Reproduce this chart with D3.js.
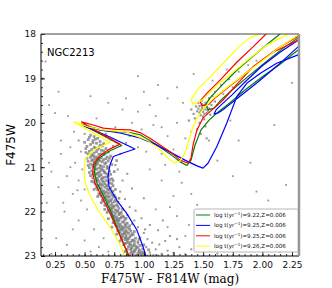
<!DOCTYPE html>
<html>
<head>
<meta charset="utf-8">
<script src="https://cdn.jsdelivr.net/npm/d3@7"></script>
<style>
  body { margin: 0; background: #fff; }
  svg { display: block; }
</style>
</head>
<body>
<svg id="chart" width="332" height="288"></svg>
<script>
// 星团名 / 坐标轴
const clusterName = "NGC2213";
const xTicks = [0.25, 0.50, 0.75, 1.00, 1.25, 1.50, 1.75, 2.00, 2.25];
const yTicks = [18, 19, 20, 21, 22, 23];

// 主序带上的星 (color, mag)
const msStars = [
  [0.55,20.28],[0.58,20.31],[0.61,20.35],[0.53,20.38],[0.57,20.40],[0.63,20.42],[0.50,20.44],[0.60,20.46],[0.66,20.47],[0.55,20.49],
  [0.52,20.53],[0.58,20.55],[0.62,20.56],[0.68,20.58],[0.56,20.60],[0.64,20.62],[0.54,20.64],[0.60,20.65],[0.70,20.66],[0.58,20.68],
  [0.53,20.70],[0.62,20.71],[0.66,20.72],[0.57,20.74],[0.72,20.75],[0.60,20.77],[0.55,20.78],[0.64,20.79],[0.68,20.81],[0.59,20.82],
  [0.62,20.84],[0.56,20.85],[0.70,20.86],[0.65,20.88],[0.58,20.89],[0.61,20.91],[0.67,20.92],[0.55,20.93],[0.73,20.94],[0.63,20.96],
  [0.59,20.97],[0.66,20.99],[0.57,21.00],[0.62,21.02],[0.69,21.03],[0.60,21.05],[0.65,21.06],[0.56,21.08],[0.71,21.09],[0.63,21.10],
  [0.58,21.12],[0.67,21.13],[0.61,21.15],[0.64,21.17],[0.59,21.18],[0.70,21.20],[0.62,21.21],[0.66,21.23],[0.57,21.24],[0.73,21.26],
  [0.64,21.27],[0.60,21.29],[0.68,21.30],[0.62,21.32],[0.66,21.34],[0.71,21.35],[0.63,21.37],[0.59,21.38],[0.69,21.40],[0.65,21.41],
  [0.62,21.43],[0.67,21.45],[0.72,21.46],[0.64,21.48],[0.69,21.49],[0.61,21.51],[0.66,21.53],[0.74,21.54],[0.68,21.56],[0.64,21.57],
  [0.70,21.59],[0.66,21.61],[0.73,21.62],[0.68,21.64],[0.64,21.65],[0.71,21.67],[0.76,21.68],[0.67,21.70],[0.73,21.72],[0.69,21.73],
  [0.71,21.75],[0.66,21.77],[0.75,21.78],[0.70,21.80],[0.73,21.81],[0.68,21.83],[0.77,21.85],[0.72,21.86],[0.75,21.88],[0.70,21.89],
  [0.74,21.91],[0.79,21.93],[0.72,21.94],[0.76,21.96],[0.70,21.97],[0.78,21.99],[0.74,22.01],[0.81,22.02],[0.76,22.04],[0.73,22.05],
  [0.79,22.07],[0.75,22.09],[0.82,22.10],[0.77,22.12],[0.74,22.13],[0.80,22.15],[0.76,22.17],[0.84,22.18],[0.79,22.20],[0.77,22.21],
  [0.82,22.23],[0.78,22.25],[0.86,22.26],[0.80,22.28],[0.76,22.29],[0.84,22.31],[0.81,22.33],[0.79,22.34],[0.87,22.36],[0.83,22.37],
  [0.80,22.39],[0.85,22.41],[0.82,22.42],[0.89,22.44],[0.84,22.45],[0.80,22.47],[0.87,22.49],[0.83,22.50],[0.91,22.52],[0.85,22.53],
  [0.82,22.55],[0.88,22.57],[0.85,22.58],[0.93,22.60],[0.87,22.61],[0.84,22.63],[0.90,22.65],[0.86,22.66],[0.95,22.68],[0.89,22.69],
  [0.85,22.71],[0.92,22.73],[0.88,22.74],[0.97,22.76],[0.91,22.77],[0.87,22.79],[0.94,22.81],[0.90,22.82],[0.99,22.84],[0.93,22.85],
  [0.89,22.87],[0.96,22.89],[0.92,22.90],[1.00,22.92],[0.95,22.93],[0.91,22.95],[0.98,22.97],[0.94,22.98],[0.88,22.99],
  [0.54,20.33],[0.59,20.37],[0.65,20.52],[0.51,20.58],[0.61,20.60],[0.67,20.69],[0.56,20.72],[0.69,20.77],[0.61,20.80],[0.53,20.87],
  [0.66,20.83],[0.60,20.94],[0.69,20.98],[0.54,21.01],[0.64,21.04],[0.67,21.11],[0.60,21.14],[0.72,21.16],[0.55,21.19],[0.65,21.25],
  [0.61,21.28],[0.70,21.33],[0.67,21.38],[0.61,21.41],[0.74,21.42],[0.63,21.47],[0.70,21.52],[0.67,21.58],[0.62,21.60],[0.75,21.63],
  [0.70,21.66],[0.66,21.69],[0.72,21.76],[0.78,21.79],[0.69,21.84],[0.74,21.87],[0.72,21.92],[0.77,21.98],[0.72,22.00],[0.80,22.05],
  [0.75,22.11],[0.81,22.13],[0.78,22.16],[0.75,22.22],[0.83,22.24],[0.79,22.30],[0.85,22.34],[0.81,22.40],[0.78,22.43],[0.86,22.46],
  [0.82,22.51],[0.89,22.54],[0.84,22.59],[0.81,22.62],[0.91,22.64],[0.87,22.70],[0.83,22.75],[0.93,22.78],[0.89,22.83],[0.96,22.86],
  [0.90,22.91],[0.97,22.94],[0.86,22.96],[0.93,23.00],
  [0.57,20.45],[0.63,20.50],[0.59,20.57],[0.66,20.63],[0.51,20.67],[0.64,20.70],[0.58,20.76],[0.71,20.80],[0.57,20.83],[0.63,20.86],
  [0.68,20.90],[0.57,20.95],[0.64,20.98],[0.70,21.01],[0.59,21.03],[0.66,21.08],[0.62,21.12],[0.69,21.15],[0.57,21.16],[0.63,21.19],
  [0.68,21.22],[0.60,21.25],[0.71,21.28],[0.65,21.31],[0.58,21.34],[0.73,21.37],[0.64,21.39],[0.69,21.43],[0.60,21.46],[0.71,21.50],
  [0.65,21.55],[0.72,21.57],[0.63,21.62],[0.74,21.66],[0.68,21.68],[0.65,21.74],[0.76,21.75],[0.70,21.78],[0.67,21.86],[0.78,21.88],
  [0.73,21.96],[0.69,22.02],[0.79,22.03],[0.73,22.08],[0.83,22.12],[0.78,22.19],[0.74,22.25],[0.85,22.28],[0.77,22.32],[0.82,22.36],
  [0.88,22.40],[0.79,22.44],[0.84,22.48],[0.90,22.50],[0.81,22.58],[0.86,22.62],[0.92,22.67],[0.84,22.72],[0.89,22.76],[0.95,22.80],
  [0.86,22.85],[0.92,22.88],[0.98,22.91],[0.89,22.94],[0.95,22.99],[0.84,22.90],[0.80,22.66],[0.77,22.51],[0.73,22.35],[0.70,22.16],
  [0.67,21.95],[0.64,21.80],[0.61,21.66],[0.58,21.50],[0.56,21.32],[0.54,21.12],[0.53,20.96],[0.52,20.80],[0.74,21.30],[0.76,21.50],
  [0.79,21.70],[0.82,21.95],[0.85,22.15],[0.88,22.32],[0.92,22.45],[0.96,22.62],[1.00,22.75],[1.04,22.86],[0.75,21.10],[0.77,20.85]
];

// 主序右侧 (双星 + 场星)
const redStars = [
  [0.80,21.55],[0.84,21.72],[0.88,21.90],[0.86,22.08],[0.92,22.20],[0.95,22.35],[0.90,22.28],[1.00,22.48],[0.97,22.58],[1.03,22.62],
  [1.07,22.70],[1.02,22.80],[1.10,22.85],[1.05,22.92],[1.15,22.95],[1.08,22.98],[1.20,22.88],[1.25,22.93],[1.13,22.74],[1.18,22.66],
  [0.98,22.15],[0.93,21.98],[1.05,22.30],[1.12,22.42],[0.82,21.30],[0.86,21.15],[0.78,21.05],[0.90,21.48],[1.00,21.70],[1.22,22.55],
  [1.30,22.80],[1.35,22.96],[1.28,22.62],[0.99,22.96],[1.03,22.99],[1.12,22.99],[0.95,22.72],[1.01,22.40],[1.16,22.20],[1.40,22.85],
  [0.76,20.95],[0.80,20.70],[0.74,20.52],[0.85,20.45],[0.72,20.38],[0.68,20.25],[0.62,20.20],[0.57,20.15],[0.50,20.25],[0.45,20.40]
];

// 左侧与上方的场星
const fieldStars = [
  [0.48,21.05],[0.45,21.30],[0.50,21.50],[0.42,20.90],[0.47,21.75],[0.52,21.95],[0.40,21.60],[0.35,21.20],[0.30,20.70],[0.38,20.55],
  [0.25,19.78],[0.20,19.60],[0.17,18.62],[0.15,19.00],[0.22,21.10],[0.28,21.45],[0.33,22.00],[0.26,22.60],[0.45,22.20],[0.58,22.40],
  [0.62,22.80],[0.36,19.85],[0.20,20.90],[0.30,20.40],[0.41,20.20],[0.18,21.80],[0.55,22.90],[0.44,21.52],[0.38,21.00],[0.47,20.65],
  [0.70,19.55],[0.82,19.70],[0.90,20.00],[1.10,19.85],[1.08,20.05],[0.98,20.15],[1.20,20.30],[1.25,20.60],[1.15,20.70],[0.95,20.55],
  [1.30,21.10],[1.15,21.30],[1.40,21.60],[1.05,21.05],[1.22,21.90],[1.45,22.10],[1.60,22.30],[1.75,21.20],[1.85,22.60],[2.00,22.05],
  [1.55,20.40],[1.62,20.85],[1.40,20.20],[1.33,19.55],[1.28,19.20],[1.42,18.90],[1.58,19.05],[1.70,18.80],[2.10,20.05],[1.95,21.55],
  [1.73,19.95],[1.80,20.40],[1.20,19.45],[1.00,19.30],[0.60,19.90],[0.76,20.10],
  [1.60,19.30],[1.65,19.15],[1.72,19.02],[1.80,18.85],[1.88,18.70],[1.95,18.60],[1.58,19.40],[1.67,19.35],[1.75,19.20],[1.62,19.60],
  [2.05,21.75],[2.15,22.90],[1.68,22.80],[1.50,22.60],
  [0.85,19.45],[0.95,19.75],[1.05,19.60],[1.15,20.10],[1.28,20.00],[1.35,20.35],[0.88,20.30],[1.02,20.65],[1.18,20.95],[1.32,21.35],
  [1.25,21.65],[1.45,21.85],[1.55,22.45],[1.38,22.30],[1.48,22.75],[1.62,22.95],[1.20,22.35],[1.28,22.10],[1.10,21.95],[1.35,22.55],
  [0.35,22.75],[0.22,22.95],[0.14,20.20],[0.28,19.30],[0.55,19.40],[0.95,18.95],[1.12,19.15],[2.25,19.10],[2.20,21.40],[1.90,20.90],
  [0.40,22.40],[0.32,21.80],[0.50,22.65],[0.60,23.00],[0.70,22.90],[0.66,22.60]
];

// 红团簇
const clumpStars = [
  [1.47,19.62],[1.49,19.66],[1.51,19.60],[1.52,19.70],[1.48,19.72],[1.50,19.75],[1.53,19.64],[1.46,19.68],[1.50,19.69],[1.49,19.58],
  [1.54,19.73],[1.47,19.77],[1.51,19.80],[1.45,19.74],[1.52,19.55],[1.48,19.83],[1.55,19.68],[1.44,19.63],[1.50,19.86],[1.53,19.78],
  [1.46,19.55],[1.42,19.80],[1.57,19.60],[1.49,19.50],[1.43,19.90],[1.51,19.92],[1.56,19.82],[1.40,19.70],[1.47,20.00],[1.52,20.08],
  [1.45,20.15],[1.55,19.45],[1.60,19.52],[1.38,19.95],[1.48,20.25],[1.53,20.35]
];

// 等龄线 (color, mag)
const iso922 = [
  [0.883,23.09],[0.782,22.41],[0.714,21.96],[0.664,21.67],[0.605,21.36],[0.583,21.13],[0.588,20.93],[0.630,20.78],[0.706,20.64],[0.813,20.51],
  [0.630,20.25],[0.475,20.03],[0.571,20.11],[0.655,20.17],[0.773,20.20],[0.883,20.22],[0.967,20.27],[1.052,20.40],[1.136,20.55],[1.221,20.70],
  [1.305,20.88],[1.364,20.96],[1.398,20.84],[1.432,20.50],[1.482,20.16],[1.550,19.94],[1.617,19.78],[1.727,19.55],[1.853,19.26],[1.997,18.97],
  [2.149,18.68],[2.301,18.36],[2.419,18.18],
  [2.318,17.73],[2.191,17.91],[2.064,18.18],[1.921,18.50],[1.786,18.81],[1.659,19.15],[1.558,19.44],[1.524,19.58],[1.541,19.71],[1.592,19.67],
  [1.643,19.51],[1.744,19.26],[1.896,18.92],[2.047,18.59],[2.191,18.29],[2.301,18.09],[2.419,17.91]
];
const iso925b = [
  [1.027,23.09],[0.993,22.79],[0.940,22.41],[0.855,22.04],[0.771,21.74],[0.706,21.44],[0.697,21.21],[0.714,20.95],[0.742,20.76],[0.824,20.68],
  [0.925,20.59],[0.714,20.32],[0.495,20.07],[0.630,20.16],[0.799,20.23],[0.967,20.34],[1.094,20.48],[1.221,20.66],[1.347,20.84],[1.448,20.97],
  [1.499,21.02],[1.541,20.91],[1.615,20.54],[1.699,20.01],[1.784,19.41],[1.868,19.11],[1.980,18.89],[2.121,18.66],[2.301,18.47],[2.444,18.32],
  [2.444,17.91],[2.301,18.14],[2.149,18.41],[1.997,18.72],[1.853,19.08],[1.744,19.37],[1.659,19.58],[1.609,19.71],[1.592,19.80],[1.626,19.78],
  [1.685,19.67],[1.811,19.40],[1.963,19.08],[2.132,18.70],[2.301,18.29],[2.444,18.05]
];
const iso925r = [
  [0.891,23.09],[0.776,22.41],[0.700,21.96],[0.644,21.66],[0.588,21.36],[0.568,21.14],[0.575,20.93],[0.621,20.76],[0.697,20.61],[0.799,20.48],
  [0.630,20.23],[0.475,19.98],[0.573,20.05],[0.658,20.12],[0.771,20.15],[0.883,20.16],[0.967,20.22],[1.052,20.35],[1.136,20.50],[1.221,20.65],
  [1.305,20.84],[1.375,20.91],[1.398,20.79],[1.415,20.50],[1.448,20.16],[1.499,19.89],[1.575,19.71],[1.668,19.49],[1.786,19.13],[1.921,18.74],
  [2.090,18.41],[2.301,18.14],[2.444,17.95],
  [2.233,17.80],[2.064,17.91],[2.031,18.00],[1.921,18.29],[1.786,18.63],[1.643,19.04],[1.533,19.33],[1.474,19.51],[1.491,19.62],[1.550,19.58],
  [1.600,19.44],[1.659,19.31],[1.811,18.99],[1.963,18.65],[2.132,18.32],[2.301,18.05],[2.419,17.86]
];
const iso926 = [
  [0.849,23.09],[0.813,22.82],[0.729,22.41],[0.630,22.03],[0.546,21.65],[0.503,21.33],[0.495,21.11],[0.503,20.84],[0.546,20.68],[0.605,20.57],
  [0.664,20.50],[0.714,20.44],[0.562,20.21],[0.410,19.98],[0.529,20.09],[0.655,20.16],[0.858,20.21],[1.027,20.39],[1.136,20.61],[1.221,20.84],
  [1.263,20.91],[1.305,20.86],[1.347,20.68],[1.373,20.45],[1.406,20.16],[1.448,19.89],[1.507,19.67],[1.583,19.46],[1.710,19.19],[1.862,18.88],
  [2.005,18.59],[2.149,18.29],[2.284,18.05],[2.402,17.82],
  [2.233,17.73],[2.081,17.86],[1.980,18.00],[1.900,18.07],[1.800,18.29],[1.680,18.63],[1.558,18.97],[1.448,19.26],[1.398,19.49],[1.415,19.58],
  [1.491,19.49],[1.617,19.15],[1.752,18.86],[1.896,18.54],[2.039,18.25],[2.166,18.07],[2.318,17.86]
];

const isoColors = ["green", "blue", "red", "yellow"];
const isoLabels = ["9.22", "9.25", "9.25", "9.26"];
const isoZ = "0.006";

const svg = d3.select("#chart");
const margin = { left: 41, right: 33, top: 34, bottom: 32 };
const W = 332, H = 288;
const pw = W - margin.left - margin.right;
const ph = H - margin.top - margin.bottom;

const x = d3.scaleLinear().domain([0.132, 2.309]).range([margin.left, margin.left + pw]);
const y = d3.scaleLinear().domain([18, 23]).range([margin.top, margin.top + ph]);

svg.append("defs").append("clipPath").attr("id", "plotClip")
  .append("rect")
  .attr("x", margin.left).attr("y", margin.top)
  .attr("width", pw).attr("height", ph);

const plot = svg.append("g").attr("clip-path", "url(#plotClip)");

// 散点: 主序带画大一点, 其余小点
function drawStars(list, size) {
  plot.append("g").selectAll("rect")
    .data(list)
    .join("rect")
    .attr("x", d => x(d[0]) - size / 2)
    .attr("y", d => y(d[1]) - size / 2)
    .attr("width", size)
    .attr("height", size)
    .attr("fill", "#808080")
    .attr("opacity", 0.8);
}
drawStars(fieldStars, 1.8);
drawStars(redStars, 2.0);
drawStars(clumpStars, 2.2);
drawStars(msStars, 2.7);

// 等龄线
const line = d3.line().x(d => x(d[0])).y(d => y(d[1]));
[iso922, iso925b, iso925r, iso926].forEach((iso, i) => {
  plot.append("path")
    .attr("d", line(iso))
    .attr("fill", "none")
    .attr("stroke", isoColors[i])
    .attr("stroke-width", 1.2)
    .attr("stroke-linejoin", "round");
});

// 坐标轴 (刻度朝内)
const xAxis = d3.axisBottom(x).tickValues(xTicks).tickFormat(d3.format(".2f")).tickSizeInner(-4).tickSizeOuter(0).tickPadding(6);
const xMinor = d3.axisBottom(x).tickValues(d3.range(0.15, 2.31, 0.05)).tickFormat("").tickSizeInner(-2).tickSizeOuter(0);
const yAxis = d3.axisLeft(y).tickValues(yTicks).tickFormat(d3.format("d")).tickSizeInner(-4).tickSizeOuter(0).tickPadding(5);
const yMinor = d3.axisLeft(y).tickValues(d3.range(18, 23.01, 0.2)).tickFormat("").tickSizeInner(-2).tickSizeOuter(0);

function styleAxis(g) {
  g.select(".domain").remove();
  g.selectAll("line").attr("stroke", "#000").attr("stroke-width", 0.8);
  g.selectAll("text").attr("font-family", "DejaVu Sans").attr("font-size", 9).attr("fill", "#111");
}

svg.append("g").attr("transform", `translate(0,${margin.top + ph})`).call(xMinor).call(styleAxis);
svg.append("g").attr("transform", `translate(0,${margin.top + ph})`).call(xAxis).call(styleAxis);
svg.append("g").attr("transform", `translate(${margin.left},0)`).call(yMinor).call(styleAxis);
svg.append("g").attr("transform", `translate(${margin.left},0)`).call(yAxis).call(styleAxis);

// 边框
svg.append("line").attr("x1", margin.left).attr("x2", margin.left + pw).attr("y1", margin.top).attr("y2", margin.top)
  .attr("stroke", "#444").attr("stroke-width", 1);
svg.append("line").attr("x1", margin.left).attr("x2", margin.left).attr("y1", margin.top).attr("y2", margin.top + ph)
  .attr("stroke", "#000").attr("stroke-width", 1);
svg.append("line").attr("x1", margin.left).attr("x2", margin.left + pw).attr("y1", margin.top + ph).attr("y2", margin.top + ph)
  .attr("stroke", "#000").attr("stroke-width", 1);
svg.append("line").attr("x1", margin.left + pw).attr("x2", margin.left + pw).attr("y1", margin.top).attr("y2", margin.top + ph)
  .attr("stroke", "#999").attr("stroke-width", 2.5);

// 标题文字
svg.append("text")
  .attr("x", margin.left + 6).attr("y", 56)
  .attr("font-family", "DejaVu Sans").attr("font-size", 10)
  .text(clusterName);

svg.append("text")
  .attr("transform", `translate(15,${margin.top + ph / 2}) rotate(-90)`)
  .attr("text-anchor", "middle")
  .attr("font-family", "DejaVu Sans").attr("font-size", 12)
  .text("F475W");

svg.append("text")
  .attr("x", margin.left + pw / 2).attr("y", 283)
  .attr("text-anchor", "middle")
  .attr("font-family", "DejaVu Serif").attr("font-size", 12)
  .text("F475W - F814W (mag)");

// 图例
const lg = svg.append("g").attr("transform", "translate(194,209)");
lg.append("rect")
  .attr("width", 104).attr("height", 43)
  .attr("fill", "#fff").attr("stroke", "#888").attr("stroke-width", 0.6).attr("rx", 1.5);
isoColors.forEach((c, i) => {
  const ly = 6 + i * 10.4;
  lg.append("line").attr("x1", 2).attr("x2", 16).attr("y1", ly).attr("y2", ly)
    .attr("stroke", c).attr("stroke-width", 1);
  const t = lg.append("text").attr("x", 20).attr("y", ly + 2)
    .attr("font-family", "DejaVu Sans").attr("font-size", 5.6).attr("fill", "#111");
  t.append("tspan").text("log t(yr");
  t.append("tspan").attr("dy", -2).attr("font-size", 4).text("\u22121");
  t.append("tspan").attr("dy", 2).text(`)=${isoLabels[i]},Z=${isoZ}`);
});
</script>
</body>
</html>
